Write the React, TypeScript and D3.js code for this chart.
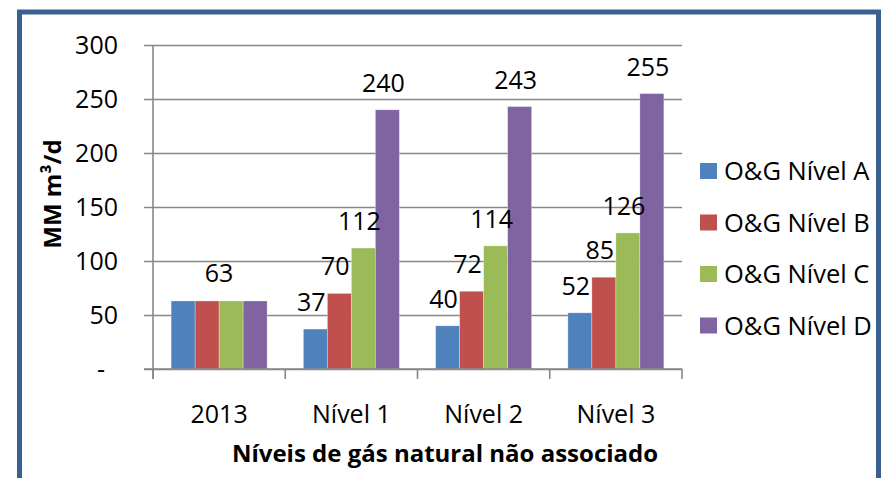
import * as d3 from "d3";
import React, { useEffect, useRef } from "react";

// data
const categories = ["2013", "Nível 1", "Nível 2", "Nível 3"];
const seriesNames = ["O&G Nível A", "O&G Nível B", "O&G Nível C", "O&G Nível D"];
const nivelA = [63, 37, 40, 52];
const nivelB = [63, 70, 72, 85];
const nivelC = [63, 112, 114, 126];
const nivelD = [63, 240, 243, 255];
const yTicks = [0, 50, 100, 150, 200, 250, 300];
const colors = ["#4F81BD", "#C0504D", "#9BBB59", "#8064A2"];

const seriesValues = [nivelA, nivelB, nivelC, nivelD];

const width = 885;
const height = 478;
const font = "'Open Sans', 'Noto Sans', sans-serif";

export default function App() {
  const svgRef = useRef<SVGSVGElement | null>(null);

  useEffect(() => {
    const svg = d3.select(svgRef.current);
    svg.selectAll("*").remove();

    const plot = { left: 153, right: 682, top: 45, bottom: 369 };

    // outer frame
    svg
      .append("rect")
      .attr("x", 19.5)
      .attr("y", 12)
      .attr("width", 859)
      .attr("height", 500)
      .attr("fill", "white")
      .attr("stroke", "#3A6090")
      .attr("stroke-width", 5);

    const x0 = d3
      .scaleBand<string>()
      .domain(categories)
      .range([plot.left, plot.right])
      .padding(0);

    const x1 = d3
      .scaleBand<string>()
      .domain(seriesNames)
      .range([0, x0.bandwidth()])
      .paddingInner(0)
      .paddingOuter(0.755);

    const y = d3
      .scaleLinear()
      .domain([0, 300])
      .range([plot.bottom, plot.top]);

    // gridlines + y tick labels
    const yAxis = d3
      .axisLeft(y)
      .tickValues(yTicks)
      .tickSize(0)
      .tickPadding(0)
      .tickFormat((d) => (d === 0 ? "-" : String(d)));

    const yAxisG = svg
      .append("g")
      .attr("transform", `translate(${plot.left - 9}, 0)`)
      .call(yAxis);
    yAxisG.select(".domain").remove();
    yAxisG
      .selectAll(".tick line")
      .attr("x1", 0)
      .attr("x2", plot.right - plot.left + 9)
      .attr("stroke", "#878787")
      .attr("stroke-width", 1.3);
    yAxisG
      .selectAll(".tick text")
      .attr("x", -26)
      .attr("dy", "0.34em")
      .attr("fill", "#000")
      .style("font-family", font)
      .style("font-size", "25px")
      .attr("dx", (d: any) => (d === 0 ? -13 : 0));

    // bars
    const barG = svg.append("g");
    categories.forEach((cat, ci) => {
      seriesNames.forEach((s, si) => {
        const v = seriesValues[si][ci];
        barG
          .append("rect")
          .attr("x", (x0(cat) ?? 0) + (x1(s) ?? 0))
          .attr("y", y(v))
          .attr("width", x1.bandwidth())
          .attr("height", y(0) - y(v))
          .attr("fill", colors[si])
          .attr("stroke", "rgba(255,255,255,0.5)")
          .attr("stroke-width", 0.6);
      });
    });

    // category labels
    const xAxis = d3.axisBottom(x0).tickSize(0).tickPadding(36);
    const xAxisG = svg
      .append("g")
      .attr("transform", `translate(0, ${plot.bottom})`)
      .call(xAxis);
    xAxisG.select(".domain").remove();
    xAxisG
      .selectAll(".tick text")
      .attr("fill", "#000")
      .style("font-family", font)
      .style("font-size", "25px");

    // axis lines and tick marks
    svg
      .append("line")
      .attr("x1", plot.left)
      .attr("x2", plot.left)
      .attr("y1", plot.top)
      .attr("y2", plot.bottom + 10)
      .attr("stroke", "#878787")
      .attr("stroke-width", 1.6);
    svg
      .append("line")
      .attr("x1", plot.left - 9)
      .attr("x2", plot.right)
      .attr("y1", plot.bottom)
      .attr("y2", plot.bottom)
      .attr("stroke", "#878787")
      .attr("stroke-width", 1.6);
    const boundaries = categories.map((c) => x0(c) ?? 0).concat([plot.right]);
    svg
      .append("g")
      .selectAll("line")
      .data(boundaries)
      .join("line")
      .attr("x1", (d) => d)
      .attr("x2", (d) => d)
      .attr("y1", plot.bottom)
      .attr("y2", plot.bottom + 10)
      .attr("stroke", "#878787")
      .attr("stroke-width", 1.6);

    // data labels
    const labelG = svg
      .append("g")
      .style("font-family", font)
      .style("font-size", "25px")
      .attr("fill", "#000")
      .attr("text-anchor", "middle");
    categories.forEach((cat, ci) => {
      const vals = seriesValues.map((sv) => sv[ci]);
      const allSame = vals.every((v) => v === vals[0]);
      if (allSame) {
        // all four labels coincide: one label over the group
        labelG
          .append("text")
          .attr("x", (x0(cat) ?? 0) + x0.bandwidth() / 2)
          .attr("y", y(vals[0]) - 19)
          .text(vals[0]);
        return;
      }
      seriesNames.forEach((s, si) => {
        const v = vals[si];
        labelG
          .append("text")
          .attr("x", (x0(cat) ?? 0) + (x1(s) ?? 0) + x1.bandwidth() / 2 - 4)
          .attr("y", y(v) - 18)
          .text(v);
      });
    });

    // axis titles
    svg
      .append("text")
      .attr("transform", "translate(61, 194) rotate(-90)")
      .attr("text-anchor", "middle")
      .style("font-family", font)
      .style("font-size", "24px")
      .style("font-weight", "bold")
      .text("MM m³/d");

    svg
      .append("text")
      .attr("x", 445)
      .attr("y", 462)
      .attr("text-anchor", "middle")
      .style("font-family", font)
      .style("font-size", "24px")
      .style("font-weight", "bold")
      .text("Níveis de gás natural não associado");

    // legend
    const legend = svg
      .append("g")
      .selectAll("g")
      .data(seriesNames)
      .join("g")
      .attr("transform", (d, i) => `translate(700, ${171 + i * 51.5})`);
    legend
      .append("rect")
      .attr("x", 0)
      .attr("y", -8)
      .attr("width", 17)
      .attr("height", 16)
      .attr("fill", (d, i) => colors[i]);
    legend
      .append("text")
      .attr("x", 24)
      .attr("dy", "0.36em")
      .style("font-family", font)
      .style("font-size", "25.5px")
      .text((d) => d);
  }, []);

  return (
    <svg
      ref={svgRef}
      width={width}
      height={height}
      style={{ position: "absolute", left: 0, top: 0, background: "white" }}
    ></svg>
  );
}
